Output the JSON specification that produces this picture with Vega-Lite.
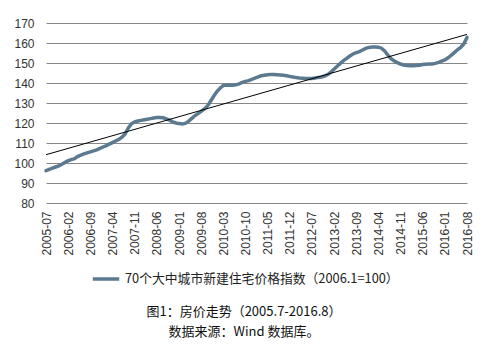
{
  "$schema": "https://vega.github.io/schema/vega-lite/v6.json",
  "width": 421,
  "height": 180,
  "padding": {"left": 13, "top": 17, "right": 5, "bottom": 5},
  "background": "white",
  "config": {
    "view": {"stroke": null},
    "font": "Liberation Sans"
  },
  "data": {
    "format": {"parse": {"date": "date"}},
    "values": [
      {"date": "2005-07-01", "v": 96.2}, {"date": "2005-08-01", "v": 96.8}, {"date": "2005-09-01", "v": 97.4}, {"date": "2005-10-01", "v": 98.0}, {"date": "2005-11-01", "v": 98.6}, {"date": "2005-12-01", "v": 99.4},
      {"date": "2006-01-01", "v": 100.3}, {"date": "2006-02-01", "v": 101.2}, {"date": "2006-03-01", "v": 101.7}, {"date": "2006-04-01", "v": 102.2}, {"date": "2006-05-01", "v": 103.2}, {"date": "2006-06-01", "v": 104.0}, {"date": "2006-07-01", "v": 104.6}, {"date": "2006-08-01", "v": 105.1}, {"date": "2006-09-01", "v": 105.6}, {"date": "2006-10-01", "v": 106.1}, {"date": "2006-11-01", "v": 106.6}, {"date": "2006-12-01", "v": 107.3},
      {"date": "2007-01-01", "v": 108.0}, {"date": "2007-02-01", "v": 108.7}, {"date": "2007-03-01", "v": 109.4}, {"date": "2007-04-01", "v": 110.2}, {"date": "2007-05-01", "v": 111.0}, {"date": "2007-06-01", "v": 111.8}, {"date": "2007-07-01", "v": 112.9}, {"date": "2007-08-01", "v": 114.5}, {"date": "2007-09-01", "v": 117.5}, {"date": "2007-10-01", "v": 119.6}, {"date": "2007-11-01", "v": 120.6}, {"date": "2007-12-01", "v": 121.0},
      {"date": "2008-01-01", "v": 121.3}, {"date": "2008-02-01", "v": 121.6}, {"date": "2008-03-01", "v": 121.9}, {"date": "2008-04-01", "v": 122.2}, {"date": "2008-05-01", "v": 122.5}, {"date": "2008-06-01", "v": 122.7}, {"date": "2008-07-01", "v": 122.8}, {"date": "2008-08-01", "v": 122.6}, {"date": "2008-09-01", "v": 122.1}, {"date": "2008-10-01", "v": 121.4}, {"date": "2008-11-01", "v": 120.6}, {"date": "2008-12-01", "v": 120.0},
      {"date": "2009-01-01", "v": 119.7}, {"date": "2009-02-01", "v": 119.5}, {"date": "2009-03-01", "v": 119.8}, {"date": "2009-04-01", "v": 120.8}, {"date": "2009-05-01", "v": 122.2}, {"date": "2009-06-01", "v": 123.6}, {"date": "2009-07-01", "v": 124.7}, {"date": "2009-08-01", "v": 125.8}, {"date": "2009-09-01", "v": 127.0}, {"date": "2009-10-01", "v": 128.5}, {"date": "2009-11-01", "v": 131.0}, {"date": "2009-12-01", "v": 133.5},
      {"date": "2010-01-01", "v": 135.8}, {"date": "2010-02-01", "v": 137.5}, {"date": "2010-03-01", "v": 138.7}, {"date": "2010-04-01", "v": 139.0}, {"date": "2010-05-01", "v": 138.9}, {"date": "2010-06-01", "v": 138.9}, {"date": "2010-07-01", "v": 139.1}, {"date": "2010-08-01", "v": 139.6}, {"date": "2010-09-01", "v": 140.3}, {"date": "2010-10-01", "v": 140.8}, {"date": "2010-11-01", "v": 141.2}, {"date": "2010-12-01", "v": 141.8},
      {"date": "2011-01-01", "v": 142.5}, {"date": "2011-02-01", "v": 143.1}, {"date": "2011-03-01", "v": 143.6}, {"date": "2011-04-01", "v": 143.9}, {"date": "2011-05-01", "v": 144.1}, {"date": "2011-06-01", "v": 144.2}, {"date": "2011-07-01", "v": 144.2}, {"date": "2011-08-01", "v": 144.1}, {"date": "2011-09-01", "v": 144.0}, {"date": "2011-10-01", "v": 143.9}, {"date": "2011-11-01", "v": 143.6}, {"date": "2011-12-01", "v": 143.3},
      {"date": "2012-01-01", "v": 143.0}, {"date": "2012-02-01", "v": 142.7}, {"date": "2012-03-01", "v": 142.5}, {"date": "2012-04-01", "v": 142.4}, {"date": "2012-05-01", "v": 142.3}, {"date": "2012-06-01", "v": 142.3}, {"date": "2012-07-01", "v": 142.3}, {"date": "2012-08-01", "v": 142.5}, {"date": "2012-09-01", "v": 142.8}, {"date": "2012-10-01", "v": 143.0}, {"date": "2012-11-01", "v": 143.5}, {"date": "2012-12-01", "v": 144.2},
      {"date": "2013-01-01", "v": 145.5}, {"date": "2013-02-01", "v": 147.0}, {"date": "2013-03-01", "v": 148.4}, {"date": "2013-04-01", "v": 149.8}, {"date": "2013-05-01", "v": 151.2}, {"date": "2013-06-01", "v": 152.3}, {"date": "2013-07-01", "v": 153.5}, {"date": "2013-08-01", "v": 154.5}, {"date": "2013-09-01", "v": 155.2}, {"date": "2013-10-01", "v": 155.7}, {"date": "2013-11-01", "v": 156.5}, {"date": "2013-12-01", "v": 157.3},
      {"date": "2014-01-01", "v": 157.8}, {"date": "2014-02-01", "v": 158.0}, {"date": "2014-03-01", "v": 158.0}, {"date": "2014-04-01", "v": 157.9}, {"date": "2014-05-01", "v": 157.4}, {"date": "2014-06-01", "v": 156.0}, {"date": "2014-07-01", "v": 154.0}, {"date": "2014-08-01", "v": 152.2}, {"date": "2014-09-01", "v": 151.0}, {"date": "2014-10-01", "v": 150.2}, {"date": "2014-11-01", "v": 149.5}, {"date": "2014-12-01", "v": 149.0},
      {"date": "2015-01-01", "v": 148.7}, {"date": "2015-02-01", "v": 148.6}, {"date": "2015-03-01", "v": 148.6}, {"date": "2015-04-01", "v": 148.7}, {"date": "2015-05-01", "v": 148.9}, {"date": "2015-06-01", "v": 149.2}, {"date": "2015-07-01", "v": 149.4}, {"date": "2015-08-01", "v": 149.5}, {"date": "2015-09-01", "v": 149.5}, {"date": "2015-10-01", "v": 149.8}, {"date": "2015-11-01", "v": 150.3}, {"date": "2015-12-01", "v": 150.9},
      {"date": "2016-01-01", "v": 151.5}, {"date": "2016-02-01", "v": 152.6}, {"date": "2016-03-01", "v": 153.8}, {"date": "2016-04-01", "v": 155.2}, {"date": "2016-05-01", "v": 156.6}, {"date": "2016-06-01", "v": 157.8}, {"date": "2016-07-01", "v": 159.5}, {"date": "2016-08-01", "v": 162.8}
    ]
  },
  "encoding": {
    "x": {
      "field": "date",
      "type": "temporal",
      "scale": {
        "type": "utc",
        "nice": false,
        "domain": [{"year": 2005, "month": 7, "date": 1, "utc": true}, {"year": 2016, "month": 8, "date": 1, "utc": true}]
      },
      "axis": {
        "values": [
          {"year": 2005, "month": 7, "date": 1, "utc": true}, {"year": 2006, "month": 2, "date": 1, "utc": true}, {"year": 2006, "month": 9, "date": 1, "utc": true}, {"year": 2007, "month": 4, "date": 1, "utc": true}, {"year": 2007, "month": 11, "date": 1, "utc": true},
          {"year": 2008, "month": 6, "date": 1, "utc": true}, {"year": 2009, "month": 1, "date": 1, "utc": true}, {"year": 2009, "month": 8, "date": 1, "utc": true}, {"year": 2010, "month": 3, "date": 1, "utc": true}, {"year": 2010, "month": 10, "date": 1, "utc": true},
          {"year": 2011, "month": 5, "date": 1, "utc": true}, {"year": 2011, "month": 12, "date": 1, "utc": true}, {"year": 2012, "month": 7, "date": 1, "utc": true}, {"year": 2013, "month": 2, "date": 1, "utc": true}, {"year": 2013, "month": 9, "date": 1, "utc": true},
          {"year": 2014, "month": 4, "date": 1, "utc": true}, {"year": 2014, "month": 11, "date": 1, "utc": true}, {"year": 2015, "month": 6, "date": 1, "utc": true}, {"year": 2016, "month": 1, "date": 1, "utc": true}, {"year": 2016, "month": 8, "date": 1, "utc": true}
        ],
        "labelExpr": "utcFormat(datum.value, '%Y-%m')",
        "labelAngle": -90,
        "labelOverlap": false,
        "labelFontSize": 12,
        "labelColor": "#333333",
        "labelPadding": 8,
        "grid": false,
        "domain": false,
        "ticks": false,
        "title": null
      }
    },
    "y": {
      "field": "v",
      "type": "quantitative",
      "scale": {"domain": [80, 170], "nice": false, "zero": false},
      "axis": {
        "values": [80, 90, 100, 110, 120, 130, 140, 150, 160, 170],
        "labelFontSize": 12,
        "labelColor": "#333333",
        "labelPadding": 12,
        "grid": true,
        "gridColor": "#888888",
        "gridWidth": 1,
        "domain": false,
        "ticks": false,
        "title": null
      }
    }
  },
  "layer": [
    {
      "mark": {"type": "line", "strokeWidth": 3.5, "strokeCap": "round"},
      "encoding": {
        "color": {
          "datum": "70个大中城市新建住宅价格指数（2006.1=100）",
          "type": "nominal",
          "scale": {"range": ["#5b7a90"]},
          "legend": {
            "orient": "none",
            "legendX": 45,
            "legendY": 241,
            "direction": "horizontal",
            "title": null,
            "symbolType": "stroke",
            "symbolStrokeWidth": 3.5,
            "symbolSize": 700,
            "labelFont": "Noto Sans CJK SC",
            "labelFontSize": 12.8,
            "labelColor": "#222222",
            "labelLimit": 400
          }
        }
      }
    },
    {
      "transform": [{"regression": "v", "on": "date"}],
      "mark": {"type": "line", "color": "#000000", "strokeWidth": 1}
    }
  ],
  "title": {
    "text": ["图1：房价走势（2005.7-2016.8）", "数据来源：Wind 数据库。"],
    "orient": "bottom",
    "anchor": "middle",
    "frame": "bounds",
    "font": "Noto Sans CJK SC",
    "fontSize": 13,
    "fontWeight": "normal",
    "color": "#111111",
    "lineHeight": 20,
    "offset": 20
  }
}
